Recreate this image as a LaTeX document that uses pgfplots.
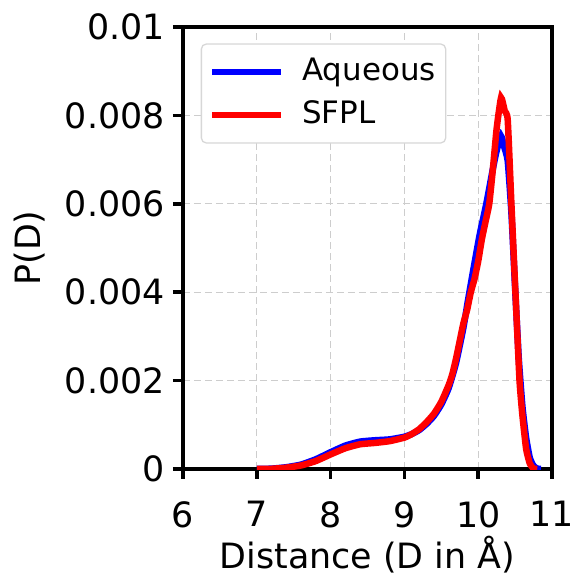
\documentclass[border=0pt]{standalone}
\usepackage{fontspec}
\setmainfont{DejaVu Sans}
\usepackage{pgfplots}
\pgfplotsset{compat=1.18}
\definecolor{gridgray}{RGB}{205,205,205}
\definecolor{legframe}{RGB}{215,215,215}
\begin{document}
\begin{tikzpicture}
\useasboundingbox (-183bp,-106bp) rectangle (391bp,469bp);
\clip (-183bp,-106bp) rectangle (391bp,469bp);
\begin{axis}[
  at={(0,0)}, anchor=south west,
  width=369bp, height=442bp, scale only axis,
  xmin=6, xmax=11, ymin=0, ymax=0.01,
  font=\fontsize{35}{42}\selectfont,
  /pgf/number format/assume math mode=true,
  xtick={6,7,8,9,10,11},
  xticklabels={6,7,8,9,10,11},
  ytick={0,0.002,0.004,0.006,0.008,0.01},
  yticklabels={0,0.002,0.004,0.006,0.008,0.01},
  scaled y ticks=false,
  xtick pos=bottom, ytick pos=left,
  tick align=outside,
  major tick length=10bp,
  every tick/.style={line width=3.5bp, black},
  axis line style={line width=4.5bp},
  grid=major,
  major grid style={dash pattern=on 7bp off 4bp, line width=1.3bp, gridgray},
  xticklabel style={inner sep=0pt, anchor=north, yshift=-22bp},
  yticklabel style={inner sep=0pt, anchor=east, xshift=-8bp},
  xlabel={Distance (D in Å)},
  ylabel={P(D)},
  xlabel style={at={(axis description cs:0.5,0)}, anchor=base, yshift=-99bp, inner sep=0pt},
  ylabel style={at={(axis description cs:0,0.5)}, anchor=base, yshift=142bp, inner sep=0pt},
  legend style={at={(rel axis cs:0.048,0.963)}, anchor=north west,
    draw=legframe, line width=1.3bp, rounded corners=5bp, fill=white,
    font=\fontsize{31}{37}\selectfont,
    inner xsep=8bp, inner ysep=10bp, row sep=7bp,
    nodes={inner sep=2bp, text height=24bp, text depth=8bp}},
  legend cell align=left,
  legend image code/.code={\draw[#1, line width=6bp] (0bp,0bp) -- (69bp,0bp); \path[draw=none, fill=none] (69bp,-1bp) rectangle (88bp,1bp);},
]
\addplot[blue, line width=6.5bp, smooth, tension=0.3] coordinates {
(7.0,0) (7.2,0.000008) (7.4,0.00004) (7.6,0.0001) (7.8,0.00022) (8.0,0.00038)
(8.2,0.00053) (8.4,0.00062) (8.6,0.00065) (8.8,0.00067) (9.0,0.00073)
(9.1,0.00079) (9.2,0.00088) (9.3,0.00102) (9.4,0.00120) (9.5,0.00146)
(9.6,0.00183) (9.7,0.00240) (9.8,0.00320) (9.86,0.00380) (9.93,0.00447)
(10.02,0.00530) (10.11,0.00600) (10.2,0.00680) (10.25,0.00720)
(10.31,0.00753) (10.35,0.00730) (10.4,0.00697) (10.45,0.00580)
(10.5,0.00410) (10.55,0.00250) (10.6,0.00140) (10.65,0.00070) (10.7,0.00025)
(10.75,0.00007) (10.8,0.00001) (10.85,0)
};
\addlegendentry{Aqueous}
\addplot[red, line width=6.5bp, smooth, tension=0.3] coordinates {
(7.0,0) (7.2,0.000005) (7.4,0.00003) (7.6,0.00008) (7.8,0.00018) (8.0,0.00033)
(8.2,0.00047) (8.4,0.00056) (8.6,0.00059) (8.8,0.00063) (9.0,0.00071)
(9.1,0.00079) (9.2,0.00090) (9.3,0.00106) (9.4,0.00125) (9.5,0.00152)
(9.6,0.00190) (9.65,0.00215) (9.7,0.00250) (9.75,0.00290) (9.8,0.00330)
(9.85,0.00360) (9.9,0.00400) (9.95,0.00430) (10.0,0.00470) (10.05,0.00520)
(10.1,0.00560) (10.15,0.00600) (10.2,0.00680) (10.25,0.00770) (10.31,0.00840)
(10.36,0.00810) (10.4,0.00790) (10.45,0.00600) (10.51,0.00380) (10.56,0.00200)
(10.6,0.00120) (10.65,0.00045) (10.7,0.00012) (10.75,0.00001) (10.8,0)
};
\addlegendentry{SFPL}
\end{axis}
\end{tikzpicture}
\end{document}
